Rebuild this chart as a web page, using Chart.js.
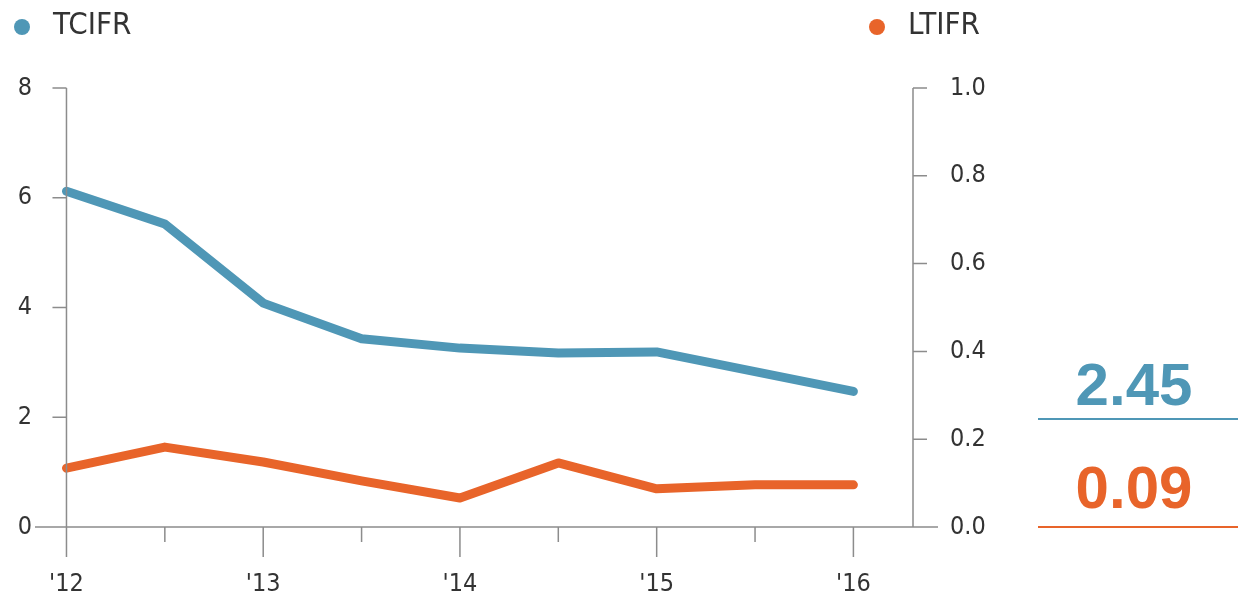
<!DOCTYPE html>
<html>
<head>
<meta charset="utf-8">
<script src="https://cdn.jsdelivr.net/npm/chart.js@4"></script>
<style>
  html, body { margin: 0; padding: 0; background: #fff; }
  #wrap { width: 1239px; height: 597px; }
</style>
</head>
<body>
<div id="wrap"><canvas id="safetyChart"></canvas></div>
<script>
var xValues = [2012, 2012.5, 2013, 2013.5, 2014, 2014.5, 2015, 2015.5, 2016];
var tcifrValues = [6.12, 5.52, 4.08, 3.43, 3.26, 3.17, 3.19, 2.83, 2.47];
var ltifrValues = [0.134, 0.182, 0.148, 0.105, 0.066, 0.146, 0.087, 0.096, 0.096];
var yearLabels = ["'12", "'13", "'14", "'15", "'16"];
var latestTcifr = "2.45";
var latestLtifr = "0.09";

var blue = "#4f97b6";
var orange = "#e8642a";
var axisGrey = "#8c8c8c";
var textGrey = "#333333";
var narrow = "'Liberation Sans Narrow', 'DejaVu Sans Condensed', 'Liberation Sans', sans-serif";

Chart.defaults.font.family = narrow;
Chart.defaults.color = textGrey;

function toPoints(vals) {
    return vals.map(function (v, i) { return { x: xValues[i], y: v }; });
}

// axis lines, tick marks, legend and the latest-value boxes
var decorations = {
    id: "decorations",
    afterDraw: function (chart) {
        var ctx = chart.ctx;
        var area = chart.chartArea;
        var x = chart.scales.x, yL = chart.scales.yL, yR = chart.scales.yR;
        var y0 = yL.getPixelForValue(0);
        var leftX = x.getPixelForValue(xValues[0]);
        var rightX = area.right - 25;

        ctx.save();
        ctx.strokeStyle = axisGrey;
        ctx.lineWidth = 1.5;
        ctx.beginPath();
        ctx.moveTo(area.left, y0); ctx.lineTo(area.right, y0);
        ctx.moveTo(leftX, yL.getPixelForValue(8)); ctx.lineTo(leftX, y0);
        ctx.moveTo(rightX, yR.getPixelForValue(1)); ctx.lineTo(rightX, y0);
        yL.ticks.forEach(function (t) {
            var py = yL.getPixelForValue(t.value);
            ctx.moveTo(leftX - 14, py); ctx.lineTo(leftX, py);
        });
        yR.ticks.forEach(function (t) {
            var py = yR.getPixelForValue(t.value);
            ctx.moveTo(rightX, py); ctx.lineTo(rightX + 14, py);
        });
        xValues.forEach(function (v) {
            var px = x.getPixelForValue(v);
            var len = (v % 1 === 0) ? 30 : 15;
            ctx.moveTo(px, y0); ctx.lineTo(px, y0 + len);
        });
        ctx.stroke();

        // legend
        ctx.textBaseline = "middle";
        ctx.textAlign = "left";
        ctx.font = "31px " + narrow;
        [[22, "TCIFR", blue], [877, "LTIFR", orange]].forEach(function (it) {
            ctx.fillStyle = it[2];
            ctx.beginPath();
            ctx.arc(it[0], 27, 8, 0, Math.PI * 2);
            ctx.fill();
            ctx.fillStyle = textGrey;
            ctx.fillText(it[1], it[0] + 31, 26);
        });

        // latest values
        ctx.textAlign = "center";
        ctx.textBaseline = "alphabetic";
        ctx.font = "bold 60px 'Liberation Sans', Arial, sans-serif";
        ctx.fillStyle = blue;
        ctx.fillText(latestTcifr, 1134, 405);
        ctx.fillStyle = orange;
        ctx.fillText(latestLtifr, 1134, 508);
        ctx.lineWidth = 2;
        ctx.strokeStyle = blue;
        ctx.beginPath(); ctx.moveTo(1038, 419); ctx.lineTo(1238, 419); ctx.stroke();
        ctx.strokeStyle = orange;
        ctx.beginPath(); ctx.moveTo(1038, y0); ctx.lineTo(1238, y0); ctx.stroke();
        ctx.restore();
    }
};

new Chart("safetyChart", {
    type: "line",
    data: {
        datasets: [{
            label: "TCIFR",
            data: toPoints(tcifrValues),
            yAxisID: "yL",
            borderColor: blue,
            borderWidth: 9
        }, {
            label: "LTIFR",
            data: toPoints(ltifrValues),
            yAxisID: "yR",
            borderColor: orange,
            borderWidth: 9
        }]
    },
    plugins: [decorations],
    options: {
        responsive: true,
        maintainAspectRatio: false,
        animation: false,
        layout: { padding: { top: 88, left: 0, right: 0, bottom: 0 } },
        elements: {
            point: { radius: 0, hoverRadius: 0 },
            line: { tension: 0, borderCapStyle: "round", borderJoinStyle: "round" }
        },
        plugins: { legend: { display: false }, tooltip: { enabled: false } },
        scales: {
            x: {
                type: "linear",
                min: 2011.84,
                max: 2016.43,
                grid: { display: false, drawTicks: false },
                border: { display: false },
                afterBuildTicks: function (scale) {
                    scale.ticks = xValues.filter(function (v) { return v % 1 === 0; })
                        .map(function (v) { return { value: v }; });
                },
                afterFit: function (scale) { scale.height = 70; },
                ticks: {
                    padding: 42,
                    maxRotation: 0,
                    font: { size: 25 },
                    callback: function (v) { return yearLabels[v - 2012]; }
                }
            },
            yL: {
                position: "left",
                min: 0,
                max: 8,
                grid: { display: false, drawTicks: false },
                border: { display: false },
                afterFit: function (scale) { scale.width = 35; },
                ticks: { stepSize: 2, padding: 3, font: { size: 25 } }
            },
            yR: {
                position: "right",
                min: 0,
                max: 1,
                grid: { display: false, drawTicks: false },
                border: { display: false },
                afterFit: function (scale) { scale.width = 301; },
                ticks: {
                    stepSize: 0.2,
                    padding: 12,
                    font: { size: 25 },
                    callback: function (v) { return v.toFixed(1); }
                }
            }
        }
    }
});
</script>
</body>
</html>
